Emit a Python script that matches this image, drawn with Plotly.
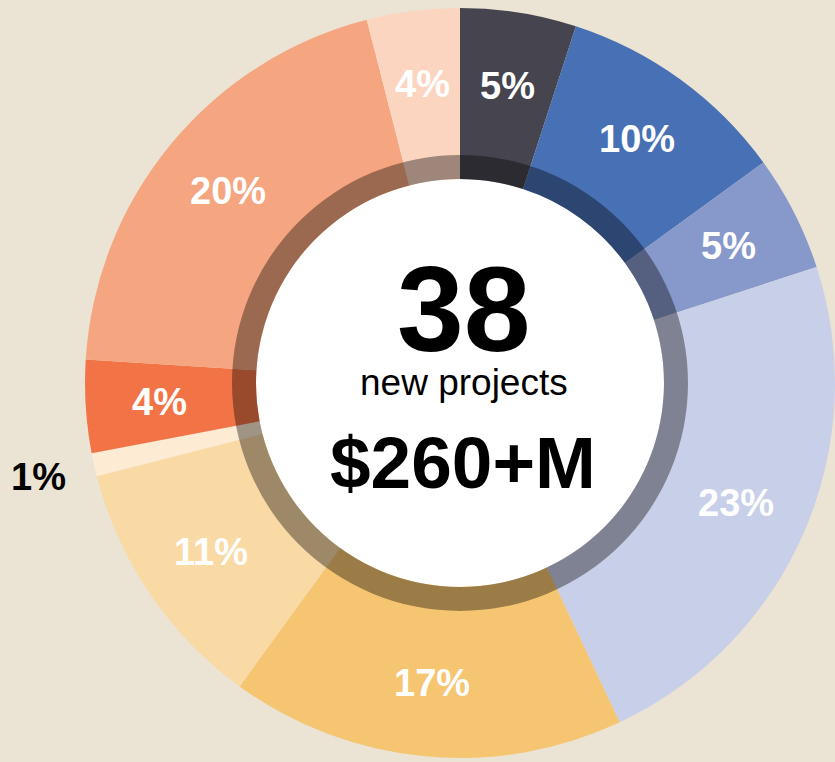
import math
import plotly.graph_objects as go

# ---- data ----
labels = ["A", "B", "C", "D", "E", "F", "G", "H", "I", "J"]
shares = [5, 10, 5, 23, 17, 11, 1, 4, 20, 4]
pct_text = [f"{v}%" for v in shares]
colors = ["#46454f", "#4870b4", "#8799cb", "#c8cfe8", "#f6c571",
          "#f9d9a4", "#fdebd3", "#f27446", "#f5a57f", "#fcd5c1"]
outside = [False, False, False, False, False, False, True, False, False, False]
center_big = "38"
center_sub = "new projects"
center_money = "$260+M"

# ---- layout geometry (pixels) ----
W, H = 835, 762
CX, CY = 460, 383
R_OUT = 375
R_RING = 228
R_WHITE = 204
R_LABEL_IN = 301
R_LABEL_OUT = 432
BG = "#ebe3d3"
FONT = "Liberation Sans, Arial, sans-serif"


def dom(r):
    return dict(x=[(CX - r) / W, (CX + r) / W],
                y=[(H - CY - r) / H, (H - CY + r) / H])


fig = go.Figure()
fig.add_trace(go.Pie(
    labels=labels, values=shares, textinfo="none",
    sort=False, direction="clockwise", rotation=0,
    hole=R_WHITE / R_OUT, domain=dom(R_OUT),
    marker=dict(colors=colors, line=dict(width=0)),
    hoverinfo="skip", showlegend=False,
))
fig.add_trace(go.Pie(
    values=[1], labels=["ring"], textinfo="none", sort=False,
    hole=R_WHITE / R_RING, domain=dom(R_RING),
    marker=dict(colors=["rgba(0,0,0,0.37)"], line=dict(width=0)),
    hoverinfo="skip", showlegend=False,
))

fig.add_shape(type="circle", xref="paper", yref="paper", layer="below",
              x0=(CX - R_WHITE) / W, x1=(CX + R_WHITE) / W,
              y0=(H - CY - R_WHITE) / H, y1=(H - CY + R_WHITE) / H,
              fillcolor="white", line=dict(width=0))

# slice labels placed at each slice's mid-angle (derived from the data)
total = sum(shares)
cum = 0
for v, t, out in zip(shares, pct_text, outside):
    mid = (cum + v / 2) / total * 2 * math.pi
    cum += v
    r = R_LABEL_OUT if out else R_LABEL_IN
    px = CX + r * math.sin(mid)
    py = CY - r * math.cos(mid)
    fig.add_annotation(text=t, x=px / W, y=1 - py / H, xref="paper", yref="paper",
                       showarrow=False, xanchor="center", yanchor="middle",
                       font=dict(family=FONT, size=38,
                                 color="black" if out else "white", weight="bold"))

fig.add_annotation(text=center_big, x=(CX + 3) / W, y=1 - 309 / H, xref="paper", yref="paper",
                   showarrow=False, xanchor="center", yanchor="middle",
                   font=dict(family=FONT, size=120, color="black", weight="bold"))
fig.add_annotation(text=center_sub, x=(CX + 4) / W, y=1 - 383 / H, xref="paper", yref="paper",
                   showarrow=False, xanchor="center", yanchor="middle",
                   font=dict(family=FONT, size=37, color="black"))
fig.add_annotation(text=center_money, x=(CX + 3) / W, y=1 - 463 / H, xref="paper", yref="paper",
                   showarrow=False, xanchor="center", yanchor="middle",
                   font=dict(family=FONT, size=73, color="black", weight="bold"))

fig.update_layout(
    width=W, height=H, margin=dict(l=0, r=0, t=0, b=0),
    paper_bgcolor=BG, plot_bgcolor=BG,
    showlegend=False,
)
fig.write_html("out.html", config={"displayModeBar": False},
               post_script="document.body.style.margin='0';")
